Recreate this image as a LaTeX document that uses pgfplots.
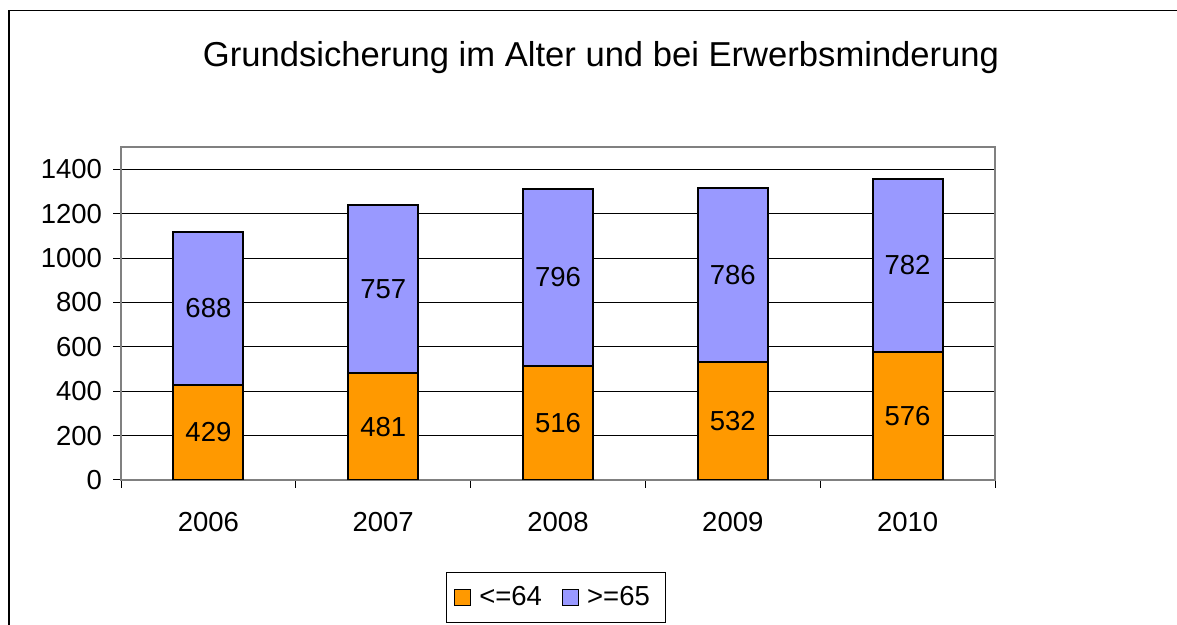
\documentclass[border=0pt]{standalone}
\usepackage{fontspec}
\setmainfont{Liberation Sans}
\usepackage{pgfplots}
\pgfplotsset{compat=1.18}
\definecolor{orng}{HTML}{FF9900}
\definecolor{lav}{HTML}{9999FF}
\newcommand{\lblfont}{\fontsize{13.75pt}{16pt}\selectfont}
\begin{document}
\begin{tikzpicture}
\useasboundingbox (0,0) rectangle (588.5pt,312.5pt);
\draw[line width=0.6pt] (4.5pt,0) -- (4.5pt,307.25pt) -- (588.5pt,307.25pt);
\node[anchor=base, inner sep=0pt, font=\fontsize{17.3pt}{20pt}\selectfont] at (300.5pt,279pt) {Grundsicherung im Alter und bei Erwerbsminderung};
\pgfplotsset{sq legend/.style={legend image code/.code={\draw[##1, draw=black, line width=0.6pt] (0pt,-4pt) rectangle (8pt,4pt);}}}
\begin{axis}[
  at={(60.5pt,72.5pt)}, anchor=south west,
  width=437pt, height=166.4pt, scale only axis,
  xmin=-0.5, xmax=4.5, ymin=0, ymax=1500,
  ybar stacked, bar width=35pt,
  xtick={0,1,2,3,4}, xticklabels={2006,2007,2008,2009,2010},
  minor xtick={-0.5,0.5,1.5,2.5,3.5,4.5},
  ytick={0,200,...,1400},
  xtick pos=bottom, ytick pos=left,
  tick align=outside,
  major tick length=4pt, minor tick length=4pt,
  major x tick style={draw=none},
  tick style={black, line width=0.5pt},
  axis line style={draw=gray, line width=0.7pt},
  ymajorgrids, major grid style={black, line width=0.5pt},
  ticklabel style={font=\lblfont},
  /pgf/number format/assume math mode=true,
  /pgf/number format/1000 sep={},
  xticklabel style={anchor=base, yshift=-22pt},
  yticklabel style={anchor=east, xshift=-2pt},
  legend style={at={(0.4977,-0.353)}, anchor=center, draw=black, line width=0.5pt,
    legend columns=2, font=\lblfont, inner xsep=4pt, inner ysep=5pt,
    /tikz/every even column/.append style={column sep=6pt},
    nodes={inner xsep=4pt}},
]
\addplot[fill=orng, draw=black, line width=1pt, sq legend] coordinates {(0,429) (1,481) (2,516) (3,532) (4,576)};
\addplot[fill=lav, draw=black, line width=1pt, sq legend] coordinates {(0,688) (1,757) (2,796) (3,786) (4,782)};
\legend{{<=64},{>=65}}
\end{axis}
\begin{axis}[
  at={(60.5pt,72.5pt)}, anchor=south west,
  width=437pt, height=166.4pt, scale only axis,
  xmin=-0.5, xmax=4.5, ymin=0, ymax=1500,
  hide axis,
]
\addplot[draw=none, mark=none, nodes near coords, point meta=explicit symbolic,
  every node near coord/.style={anchor=center, font=\lblfont}]
  coordinates {(0,214.5)[429] (1,240.5)[481] (2,258)[516] (3,266)[532] (4,288)[576]
               (0,773)[688] (1,859.5)[757] (2,914)[796] (3,925)[786] (4,967)[782]};
\end{axis}
\end{tikzpicture}
\end{document}
